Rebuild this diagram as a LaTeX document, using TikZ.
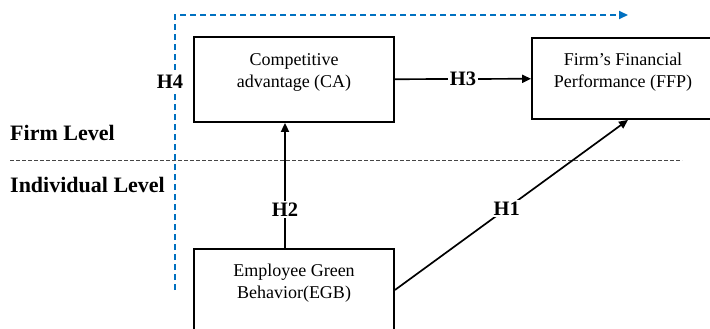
\documentclass[tikz,border=0pt]{standalone}
\usepackage{fontspec}
\setmainfont{Liberation Serif}
\usetikzlibrary{arrows.meta,positioning}
\definecolor{hfourblue}{RGB}{0,112,192}
\definecolor{levelgray}{RGB}{70,70,70}

\begin{document}
\begin{tikzpicture}[x=1pt,y=-1pt,
  box/.style={draw=black,line width=1.8pt,minimum width=200pt,
              font=\fontsize{18}{22}\selectfont,align=center,text depth=17pt},
  arr/.style={-{Triangle[length=9pt,width=8pt]},line width=1.7pt},
  hyp/.style={font=\fontsize{20.5}{24}\selectfont\bfseries,fill=white,inner sep=2pt},
  level/.style={font=\fontsize{22}{26}\selectfont\bfseries,anchor=west,inner sep=0pt}]
\useasboundingbox (0,0) rectangle (710,329);
\clip (0,0) rectangle (710,329);
% levels
\node[level](firm) at (10,133) {Firm Level};
\node[level](indiv) at (10,185) {Individual Level};
\coordinate (sepL) at (10,160);
\coordinate (sepR) at (682,160);
\draw[levelgray,line width=0.8pt,dash pattern=on 4pt off 2pt](sepL)--(sepR);
% constructs
\node[box,minimum height=85pt](ca) at (294,79.5) {Competitive\\advantage (CA)};
\node[box,minimum width=182pt,minimum height=81pt](ffp) at (623,78.5)
  {Firm’s Financial\\Performance (FFP)};
\node[box,minimum height=82pt](egb) at (294,290) {Employee Green\\Behavior(EGB)};
% hypotheses
\draw[arr](ca)--node[hyp]{H3}(ffp);
\draw[arr]([xshift=-9pt]egb.north)--node[hyp,pos=0.31]{H2}([xshift=-9pt]ca.south);
\draw[arr](egb.east)--node[hyp,pos=0.48]{H1}([xshift=5pt]ffp.south);
\coordinate (hfourS) at (175,290);
\coordinate (hfourC) at (175,15);
\coordinate (hfourE) at (628,15);
\draw[hfourblue,line width=1.8pt,dash pattern=on 6pt off 4pt,
      -{Triangle[length=9pt,width=8pt]}]
  (hfourS)--node[hyp,text=black,pos=0.756,xshift=-5pt,inner sep=1pt]{H4}(hfourC)--(hfourE);
\end{tikzpicture}
\end{document}
